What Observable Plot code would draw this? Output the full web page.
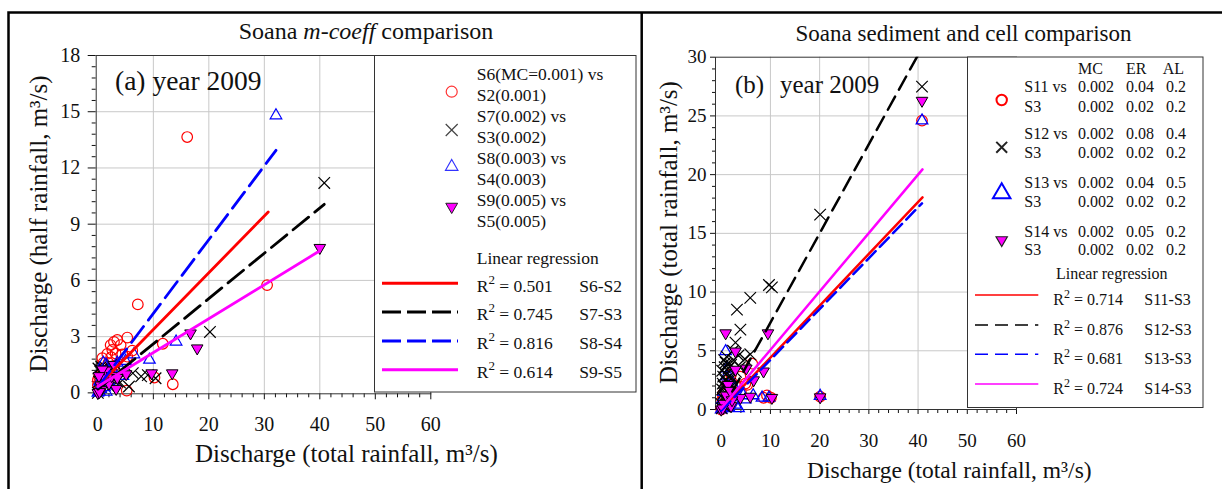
<!DOCTYPE html>
<html><head><meta charset="utf-8">
<script src="https://cdn.jsdelivr.net/npm/d3@7"></script>
<script src="https://cdn.jsdelivr.net/npm/@observablehq/plot@0.6"></script>
<style>
body{margin:0;background:#fff;}
#page{position:relative;width:1222px;height:489px;overflow:hidden;font-family:"Liberation Serif",serif;background:#fff;}
#page > svg{position:absolute;top:0;}
</style></head><body><div id="page"></div>
<script>
// ---------------- data: panel (a) ----------------
const leftS6S2 = [[16.1,13.65],[7.2,4.72],[30.5,5.75],[11.7,2.62],[13.5,0.46],[10.2,0.82],[5.3,2.95],[5.2,0.12],
 [3.5,2.82],[2.9,2.72],[4.1,2.55],[2.3,2.55],[2.6,2.29],[1.7,2.08],[0.8,1.85],[6.2,2.25],[5.3,1.93],[1.1,1.31],
 [0,0.69],[0,0.42],[0.2,0.87],[3.2,2.1],[4.4,2.05],[1.9,1.6],[2.4,1.9],[1.4,1.0],[0.6,0.55],[3.0,1.45],[0.3,0.3],[1.0,1.6],[2.0,1.2]];
const leftS7S3 = [[40.8,11.2],[20.2,3.25],[10.4,0.78],[9.0,0.95],[7.8,0.88],[6.3,1.05],[5.6,0.34],[4.0,0.55],[3.0,0.9],
 [2.5,1.5],[2.0,1.1],[1.5,0.8],[1.2,0.5],[1.0,1.0],[0.9,1.35],[0.6,1.4],[0.5,1.2],[0.4,1.15],[0.8,1.3],[1.1,1.25],
 [0.2,0.6],[0.3,0.2],[0,0],[2.2,0.3],[3.5,0.6],[4.2,1.2],[0.7,1.2],[1.3,1.38],[0.1,1.3]];
const leftS8S4 = [[32.1,14.8],[14.1,2.73],[9.3,1.76],[6.5,2.05],[5.0,1.7],[3.5,1.6],[2.5,1.3],[1.5,1.5],[1.0,1.6],
 [0.8,0.9],[0.5,0.2],[0,0],[0.2,0.05],[1.5,0.05],[3.0,0.4],[2.0,0.6],[4.5,0.9],[0.3,0.6],[1.2,0.3]];
const leftS9S5 = [[40.0,7.74],[16.7,3.18],[17.9,2.38],[13.4,1.05],[9.7,1.05],[5.1,1.0],[3.3,0.22],[2.9,1.5],[1.0,0.87],
 [1.5,1.2],[0.8,1.25],[0.2,0.9],[0.5,0.4],[0.6,0.15],[0,0],[0.3,0.05],[2.0,0.5],[2.5,0.9],[3.5,0.8]];
const leftRegS6S2 = [[0,0.35],[30.7,9.65]];
const leftRegS7S3 = [[0,0.2],[40.8,10.06]];
const leftRegS8S4 = [[0,0.3],[32.1,12.94]];
const leftRegS9S5 = [[0,0.34],[40,7.58]];
const leftXTicks = [0,10,20,30,40,50,60];
const leftYTicks = [0,3,6,9,12,15,18];
const leftLegendSeries = [["S6(MC=0.001) vs","S2(0.001)"],["S7(0.002) vs","S3(0.002)"],["S8(0.003) vs","S4(0.003)"],["S9(0.005) vs","S5(0.005)"]];
const leftLegendR2 = ["0.501","0.745","0.816","0.614"];
const leftLegendPairs = ["S6-S2","S7-S3","S8-S4","S9-S5"];

// ---------------- data: panel (b) ----------------
const rightS11S3 = [[40.8,24.6],[20.1,1.1],[9.3,1.2],[8.6,1.0],[10.1,1.0],[6.3,3.9],[4.9,2.2],[3.9,2.8],[5.3,2.1],
 [2.5,1.5],[1.5,1.0],[1.0,0.5],[0.5,0.2],[0,0],[0.2,0.8],[2.0,3.0],[3.0,2.0],[1.2,2.2],[0.8,1.5],[4.0,1.5],[0.3,1.3]];
const rightS12S3 = [[40.8,27.5],[20.1,16.6],[9.7,10.6],[10.3,10.4],[5.9,9.5],[3.2,8.5],[3.9,6.8],[2.9,5.7],[5.9,4.7],
 [3.5,4.6],[2.5,4.2],[2.0,3.8],[1.5,3.5],[1.0,3.0],[0.8,2.5],[0.5,2.0],[1.2,1.5],[0.3,1.0],[0,0.5],[0.6,0.3],[2.2,2.7],
 [1.8,2.2],[0.4,2.8],[0.9,4.0],[3.8,3.6],[1.4,0.8],[2.7,1.2],[0.2,3.3],[0.7,3.6],[1.1,4.5],[2.4,5.0],[4.8,4.3],[0.1,0.1],
 [0.5,1.4],[1.6,2.8],[0.3,2.2],[2.0,1.9],[1.3,3.9],[0.6,4.2],[3.0,3.2],[0.9,1.1],[0.2,1.7]];
const rightS13S3 = [[40.8,24.6],[20.1,1.15],[0.9,4.95],[4.9,0.85],[8.3,1.0],[9.7,1.0],[2.9,0.4],[2.0,2.5],[1.0,2.8],
 [0.5,1.5],[0,0],[1.5,0.2],[2.8,1.8],[4.5,1.2],[0.2,0.8],[1.2,3.5],[3.5,0.1],[6.5,1.2],[0.4,0.1]];
const rightS14S3 = [[40.8,26.3],[20.1,1.05],[0.9,6.5],[9.5,6.5],[2.9,4.95],[2.9,3.4],[5.1,3.5],[8.6,3.25],[6.6,2.5],
 [3.9,1.0],[5.9,1.1],[10.3,1.0],[1.4,2.1],[0.5,0.5],[0,0],[1.0,1.2],[2.0,0.3],[0.3,0.1],[1.8,1.6],[2.2,0.8]];
const rightRegS11S3 = [[0,0],[40.9,18.07]];
const rightRegS12S3 = [[0,-0.2],[40.8,30.8]];
const rightRegS13S3 = [[0,-0.1],[40.8,17.56]];
const rightRegS14S3 = [[0,0.1],[40.9,20.45]];
const rightXTicks = [0,10,20,30,40,50,60];
const rightYTicks = [0,5,10,15,20,25,30];
const rightLegendHeader = ["MC","ER","AL"];
const rightLegendSeries = [["S11 vs","S3"],["S12 vs","S3"],["S13 vs","S3"],["S14 vs","S3"]];
const rightLegendValues = [[["0.002","0.04","0.2"],["0.002","0.02","0.2"]],[["0.002","0.08","0.4"],["0.002","0.02","0.2"]],
 [["0.002","0.04","0.5"],["0.002","0.02","0.2"]],[["0.002","0.05","0.2"],["0.002","0.02","0.2"]]];
const rightLegendR2 = ["0.714","0.876","0.681","0.724"];
const rightLegendPairs = ["S11-S3","S12-S3","S13-S3","S14-S3"];

// ---------------- styles ----------------
const RED = "#ff0000", BLUE = "#0000ff", MAG = "#ff00ff", BLK = "#000000";
const FONT = '"Liberation Serif", "Times New Roman", serif';
const X = d => d[0], Y = d => d[1];
const page = d3.select("#page");
const gridStyle = {stroke: "#c8c8c8", strokeOpacity: 1, strokeWidth: 1};
const minorOf = (ticks, step, max) => d3.range(0, max + 1e-9, step).map(v => +v.toFixed(3)).filter(v => !ticks.some(t => Math.abs(t - v) < 1e-6));

// ---------------- panel (a) plot ----------------
const leftPlot = Plot.plot({
  width: 640, height: 489,
  marginLeft: 95.7, marginRight: 209.7, marginTop: 55, marginBottom: 95.7,
  x: {domain: [-0.3, 60]},
  y: {domain: [-0.05, 18]},
  style: {fontFamily: FONT, fontSize: "20px", color: "#111", background: "transparent"},
  marks: [
    Plot.gridX([10,20,30,40], gridStyle),
    Plot.gridY([3,6,9,12,15], gridStyle),
    Plot.axisX(leftXTicks, {tickSize: 6, tickPadding: 16.5, label: null}),
    Plot.axisX(minorOf(leftXTicks, 2, 60), {tickSize: 4, text: null, label: null}),
    Plot.axisY(leftYTicks, {tickSize: 8, tickPadding: 8, label: null}),
    Plot.axisY(minorOf(leftYTicks, 0.6, 18), {tickSize: 4, text: null, label: null}),
    Plot.frame({stroke: "#333"}),
    Plot.dot(leftS6S2, {x: X, y: Y, symbol: "circle", r: 5.3, stroke: RED, fill: "none", strokeWidth: 1.2}),
    Plot.dot(leftS7S3, {x: X, y: Y, symbol: "times", r: 5.3, stroke: BLK, strokeWidth: 1.2}),
    Plot.dot(leftS8S4, {x: X, y: Y, symbol: "triangle", r: 4.3, stroke: BLUE, fill: "none", strokeWidth: 1.2}),
    Plot.dot(leftS9S5, {x: X, y: Y, symbol: "triangle", rotate: 180, r: 4.3, stroke: BLK, fill: MAG, strokeWidth: 1}),
    Plot.line(leftRegS6S2, {x: X, y: Y, stroke: RED, strokeWidth: 2.8}),
    Plot.line(leftRegS7S3, {x: X, y: Y, stroke: BLK, strokeWidth: 2.8, strokeDasharray: "20,8"}),
    Plot.line(leftRegS8S4, {x: X, y: Y, stroke: BLUE, strokeWidth: 2.8, strokeDasharray: "20,8"}),
    Plot.line(leftRegS9S5, {x: X, y: Y, stroke: MAG, strokeWidth: 2.8})
  ]
});
leftPlot.style.left = "0px";
page.node().appendChild(leftPlot);

// ---------------- panel (b) plot ----------------
const rightPlot = Plot.plot({
  width: 580, height: 489,
  marginLeft: 73, marginRight: 206, marginTop: 56.7, marginBottom: 80,
  x: {domain: [-1.16, 60]},
  y: {domain: [0, 30]},
  style: {fontFamily: FONT, fontSize: "19px", color: "#111", background: "transparent"},
  marks: [
    Plot.gridX([10,20,30,40], gridStyle),
    Plot.gridY([5,10,15,20,25], gridStyle),
    Plot.axisX(rightXTicks, {tickSize: 5, tickPadding: 19, label: null}),
    Plot.axisX(minorOf(rightXTicks, 2, 60), {tickSize: 4, text: null, label: null}),
    Plot.axisY(rightYTicks, {tickSize: 5, tickPadding: 4, label: null}),
    Plot.axisY(minorOf(rightYTicks, 1, 30), {tickSize: 3, text: null, label: null}),
    Plot.frame({stroke: "#333"}),
    Plot.dot(rightS11S3, {x: X, y: Y, symbol: "circle", r: 5.3, stroke: RED, fill: "none", strokeWidth: 1.2}),
    Plot.dot(rightS13S3, {x: X, y: Y, symbol: "triangle", r: 4.3, stroke: BLUE, fill: "none", strokeWidth: 1.3}),
    Plot.dot(rightS12S3, {x: X, y: Y, symbol: "times", r: 5.3, stroke: BLK, strokeWidth: 1.2}),
    Plot.dot(rightS14S3, {x: X, y: Y, symbol: "triangle", rotate: 180, r: 4.3, stroke: BLK, fill: MAG, strokeWidth: 1}),
    Plot.line(rightRegS11S3, {x: X, y: Y, stroke: RED, strokeWidth: 2.5}),
    Plot.line(rightRegS12S3, {x: X, y: Y, stroke: BLK, strokeWidth: 2.5, strokeDasharray: "15,8", clip: true}),
    Plot.line(rightRegS13S3, {x: X, y: Y, stroke: BLUE, strokeWidth: 2.5, strokeDasharray: "13,6"}),
    Plot.line(rightRegS14S3, {x: X, y: Y, stroke: MAG, strokeWidth: 2.5})
  ]
});
rightPlot.style.left = "642px";
page.node().appendChild(rightPlot);

// ---------------- overlay: frames, titles, labels, legends ----------------
const ov = page.append("svg").attr("width", 1222).attr("height", 489).style("left", "0px")
  .style("font-family", FONT).attr("fill", "#111");
ov.append("path").attr("d", "M8.5,489V12.5H1222M641.7,12.5V489").attr("fill", "none").attr("stroke", "#000").attr("stroke-width", 2.5);

function txt(x, y, parts, size, anchor = "start") {
  const t = ov.append("text").attr("x", x).attr("y", y).attr("font-size", size).attr("text-anchor", anchor);
  if (typeof parts === "string") t.text(parts);
  else parts.forEach(p => {
    const s = t.append("tspan").text(p.t);
    if (p.it) s.attr("font-style", "italic");
    if (p.fs) s.attr("font-size", p.fs);
    if (p.dy != null) s.attr("dy", p.dy);
  });
  return t;
}
function vtxt(x, y, s, size) {
  ov.append("text").attr("transform", `translate(${x},${y}) rotate(-90)`).attr("font-size", size)
    .attr("text-anchor", "middle").text(s);
}
function sym(type, x, y, r, attrs) {
  const p = ov.append("path").attr("d", d3.symbol(type, Math.PI * r * r)())
    .attr("transform", `translate(${x},${y})` + (attrs.rot ? " rotate(180)" : ""));
  for (const k of ["fill", "stroke", "stroke-width"]) if (attrs[k] != null) p.attr(k, attrs[k]);
}

// titles
txt(366, 39.3, [{t: "Soana "}, {t: "m-coeff", it: true}, {t: " comparison"}], 24, "middle");
txt(963.5, 40.5, "Soana sediment and cell comparison", 23, "middle");
txt(115, 90, "(a) year 2009", 27.5);
txt(735, 93.3, "(b)", 25);
txt(780, 93.3, "year 2009", 25);

// axis labels
txt(195, 461.7, "Discharge (total rainfall, m³/s)", 25);
txt(807, 478, "Discharge (total rainfall, m³/s)", 23.5);
vtxt(46.5, 224, "Discharge (half rainfall, m³/s)", 25);
vtxt(677, 232.5, "Discharge (total rainfall, m³/s)", 25);

// left legend
ov.append("rect").attr("x", 374.5).attr("y", 55.5).attr("width", 261.5).attr("height", 336.5)
  .attr("fill", "#fff").attr("stroke", "#333").attr("stroke-width", 1);
const lSymY = [91.7, 130, 166.7, 206.7];
const lTxtY = [80, 122, 164, 206];
sym(d3.symbolCircle, 451.7, lSymY[0], 5.5, {fill: "none", stroke: "#f33", "stroke-width": 1.2});
sym(d3.symbolTimes, 451.7, lSymY[1], 5.5, {fill: "none", stroke: "#444", "stroke-width": 1.2});
sym(d3.symbolTriangle, 451.7, lSymY[2], 4.6, {fill: "none", stroke: "#33f", "stroke-width": 1.2});
sym(d3.symbolTriangle, 451.7, lSymY[3], 4.4, {fill: MAG, stroke: "#222", "stroke-width": 1, rot: true});
leftLegendSeries.forEach((s, i) => { txt(476.7, lTxtY[i], s[0], 17.5); txt(476.7, lTxtY[i] + 20.5, s[1], 17.5); });
txt(476.7, 264, "Linear regression", 17.5);
const lLineY = [283.3, 312, 341, 369.7];
const lLineStyle = [[RED, null], [BLK, "19,6"], [BLUE, "19,6"], [MAG, null]];
lLineY.forEach((y, i) => {
  const l = ov.append("line").attr("x1", 382).attr("x2", 458).attr("y1", y).attr("y2", y)
    .attr("stroke", lLineStyle[i][0]).attr("stroke-width", 3);
  if (lLineStyle[i][1]) l.attr("stroke-dasharray", lLineStyle[i][1]);
  txt(476.7, y + 8.4, [{t: "R"}, {t: "2", fs: 13, dy: -8}, {t: " = " + leftLegendR2[i], dy: 8}], 17.5);
  txt(579.3, y + 8.4, leftLegendPairs[i], 17.5);
});

// right legend
ov.append("rect").attr("x", 967.5).attr("y", 57).attr("width", 235.5).attr("height", 350.5)
  .attr("fill", "#fff").attr("stroke", "#333").attr("stroke-width", 1);
const rCols = [1078, 1126, 1166];
txt(1078, 74, rightLegendHeader[0], 16); txt(1126, 74, rightLegendHeader[1], 16); txt(1162.7, 74, rightLegendHeader[2], 16);
const rTxtY = [[92.3, 111.7], [139, 158.3], [188.3, 206.7], [236.7, 255]];
rightLegendSeries.forEach((s, i) => {
  txt(1024.3, rTxtY[i][0], s[0], 16); txt(1024.3, rTxtY[i][1], s[1], 16);
  rightLegendValues[i].forEach((row, j) => row.forEach((v, k) => txt(rCols[k], rTxtY[i][j], v, 16)));
});
sym(d3.symbolCircle, 1001.7, 100, 5.2, {fill: "none", stroke: RED, "stroke-width": 2});
sym(d3.symbolTimes, 1001.7, 147.3, 5, {fill: "none", stroke: "#222", "stroke-width": 2});
sym(d3.symbolTriangle, 1001.7, 193.3, 6.5, {fill: "none", stroke: BLUE, "stroke-width": 2});
sym(d3.symbolTriangle, 1001.7, 240, 4.2, {fill: MAG, stroke: "#222", "stroke-width": 1.2, rot: true});
txt(1056, 279.3, "Linear regression", 16);
const rLineY = [295, 325, 354.3, 384];
const rLineStyle = [[RED, null], [BLK, "13,7"], [BLUE, "13,7"], [MAG, null]];
rLineY.forEach((y, i) => {
  const l = ov.append("line").attr("x1", 975).attr("x2", 1038.3).attr("y1", y).attr("y2", y)
    .attr("stroke", rLineStyle[i][0]).attr("stroke-width", 1.5);
  if (rLineStyle[i][1]) l.attr("stroke-dasharray", rLineStyle[i][1]);
  txt(1053.3, y + 10, [{t: "R"}, {t: "2", fs: 12, dy: -7}, {t: " = " + rightLegendR2[i], dy: 7}], 16);
  txt(1144.3, y + 10, rightLegendPairs[i], 16);
});
</script>
</body></html>
